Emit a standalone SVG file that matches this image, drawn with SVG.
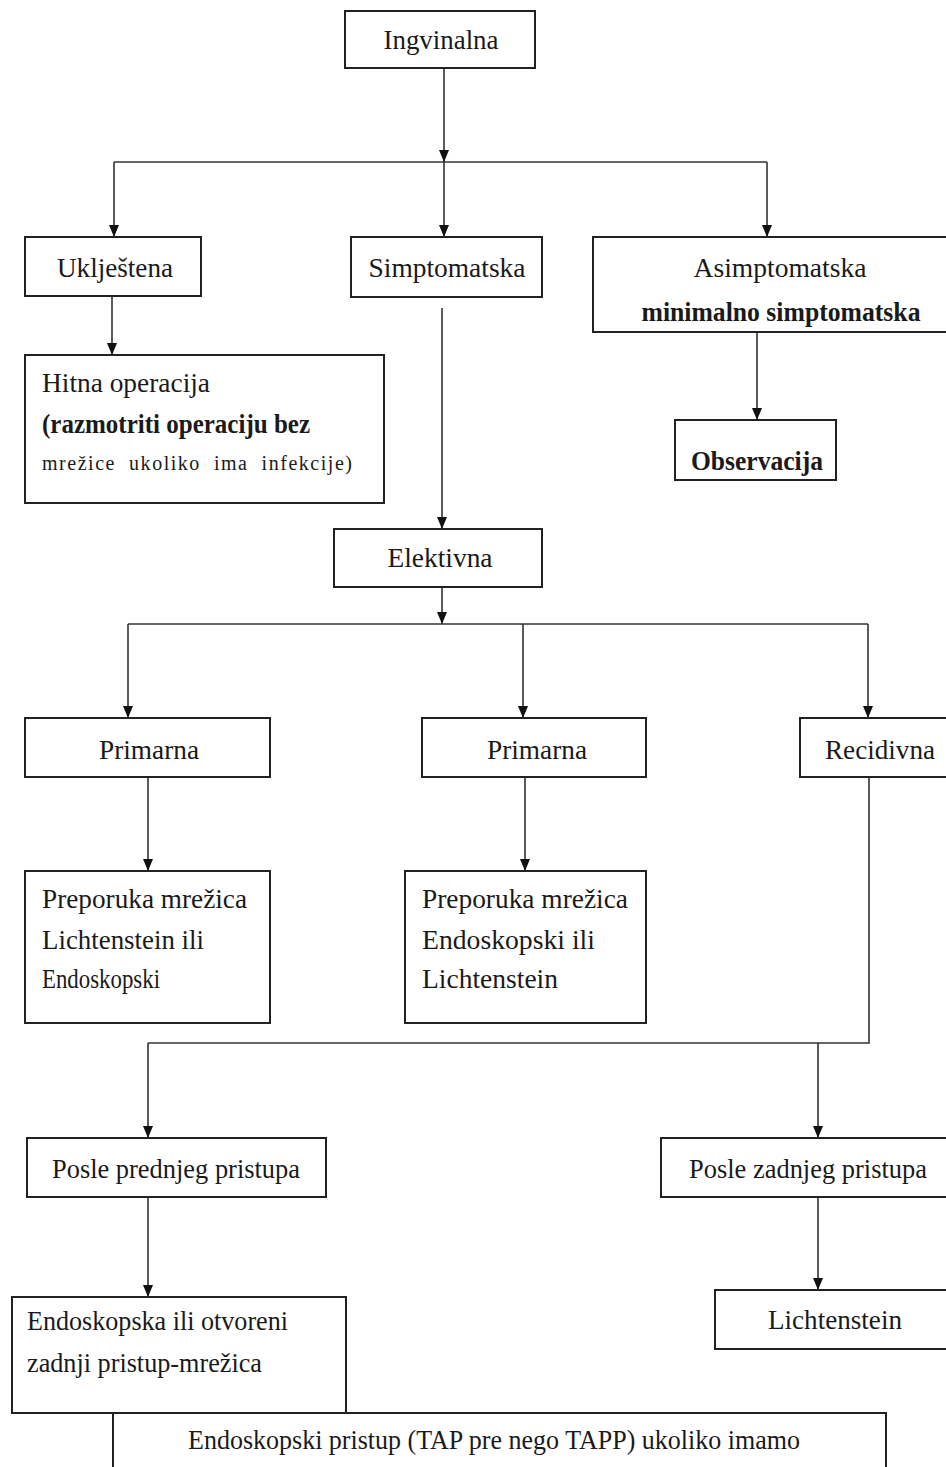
<svg xmlns="http://www.w3.org/2000/svg" width="946" height="1467" viewBox="0 0 946 1467">
<defs>
<marker id="arr" markerWidth="12" markerHeight="10" refX="12" refY="5" orient="auto" markerUnits="userSpaceOnUse" viewBox="0 0 12 10">
<path d="M0,0 L12,5 L0,10 Z" fill="#111"/>
</marker>
<style>
.box{fill:#fff;stroke:#222;stroke-width:2}
.ln{fill:none;stroke:#333;stroke-width:1.6}
.t{font-family:"Liberation Serif","DejaVu Serif",serif;font-size:27px;fill:#1a1a1a}
.c{text-anchor:middle}
.b{font-weight:bold}
.s{font-size:20px}
</style>
</defs>
<rect width="946" height="1467" fill="#fff"/>
<g id="connectors">
<path class="ln" d="M444,68 V162" marker-end="url(#arr)"/>
<path class="ln" d="M114,162 H767"/>
<path class="ln" d="M114,162 V237" marker-end="url(#arr)"/>
<path class="ln" d="M444,162 V237" marker-end="url(#arr)"/>
<path class="ln" d="M767,162 V237" marker-end="url(#arr)"/>
<path class="ln" d="M112,296 V355" marker-end="url(#arr)"/>
<path class="ln" d="M757,332 V420" marker-end="url(#arr)"/>
<path class="ln" d="M442,308 V529" marker-end="url(#arr)"/>
<path class="ln" d="M442,587 V624" marker-end="url(#arr)"/>
<path class="ln" d="M128,624 H868"/>
<path class="ln" d="M128,624 V718" marker-end="url(#arr)"/>
<path class="ln" d="M523,624 V718" marker-end="url(#arr)"/>
<path class="ln" d="M868,624 V718" marker-end="url(#arr)"/>
<path class="ln" d="M148,777 V871" marker-end="url(#arr)"/>
<path class="ln" d="M525,777 V871" marker-end="url(#arr)"/>
<path class="ln" d="M869,777 V1043 H148"/>
<path class="ln" d="M148,1043 V1138" marker-end="url(#arr)"/>
<path class="ln" d="M818,1043 V1138" marker-end="url(#arr)"/>
<path class="ln" d="M148,1197 V1297" marker-end="url(#arr)"/>
<path class="ln" d="M818,1197 V1290" marker-end="url(#arr)"/>
</g>
<g id="n-ingvinalna"><rect class="box" x="345" y="11" width="190" height="57"/><text class="t c" x="441" y="49" textLength="115" lengthAdjust="spacingAndGlyphs">Ingvinalna</text></g>
<g id="n-ukljestena"><rect class="box" x="25" y="237" width="176" height="59"/><text class="t c" x="115" y="277" textLength="116" lengthAdjust="spacingAndGlyphs">Uklještena</text></g>
<g id="n-simptomatska"><rect class="box" x="351" y="237" width="191" height="60"/><text class="t c" x="447" y="277" textLength="157" lengthAdjust="spacingAndGlyphs">Simptomatska</text></g>
<g id="n-asimptomatska"><rect class="box" x="593" y="237" width="360" height="95"/><text class="t c" x="780" y="277" textLength="173" lengthAdjust="spacingAndGlyphs">Asimptomatska</text><text class="t c b" x="781" y="321" textLength="279" lengthAdjust="spacingAndGlyphs">minimalno simptomatska</text></g>
<g id="n-hitna"><rect class="box" x="25" y="355" width="359" height="148"/><text class="t" x="42" y="392" textLength="168" lengthAdjust="spacingAndGlyphs">Hitna operacija</text><text class="t b" x="42" y="433" textLength="268" lengthAdjust="spacingAndGlyphs">(razmotriti operaciju bez</text><text class="t s" x="42" y="470" textLength="310" lengthAdjust="spacing" xml:space="preserve">mrežice  ukoliko  ima  infekcije)</text></g>
<g id="n-observacija"><rect class="box" x="675" y="420" width="161" height="60"/><text class="t b" x="691" y="470" textLength="132" lengthAdjust="spacingAndGlyphs">Observacija</text></g>
<g id="n-elektivna"><rect class="box" x="334" y="529" width="208" height="58"/><text class="t c" x="440" y="567" textLength="105" lengthAdjust="spacingAndGlyphs">Elektivna</text></g>
<g id="n-primarna1"><rect class="box" x="25" y="718" width="245" height="59"/><text class="t c" x="149" y="759" textLength="100" lengthAdjust="spacingAndGlyphs">Primarna</text></g>
<g id="n-primarna2"><rect class="box" x="422" y="718" width="224" height="59"/><text class="t c" x="537" y="759" textLength="100" lengthAdjust="spacingAndGlyphs">Primarna</text></g>
<g id="n-recidivna"><rect class="box" x="800" y="718" width="160" height="59"/><text class="t" x="825" y="759" textLength="110" lengthAdjust="spacingAndGlyphs">Recidivna</text></g>
<g id="n-preporuka1"><rect class="box" x="25" y="871" width="245" height="152"/><text class="t" x="42" y="908" textLength="205" lengthAdjust="spacingAndGlyphs">Preporuka mrežica</text><text class="t" x="42" y="949" textLength="162" lengthAdjust="spacingAndGlyphs">Lichtenstein ili</text><text class="t" x="42" y="988" textLength="118" lengthAdjust="spacingAndGlyphs">Endoskopski</text></g>
<g id="n-preporuka2"><rect class="box" x="405" y="871" width="241" height="152"/><text class="t" x="422" y="908" textLength="206" lengthAdjust="spacingAndGlyphs">Preporuka mrežica</text><text class="t" x="422" y="949" textLength="173" lengthAdjust="spacingAndGlyphs">Endoskopski ili</text><text class="t" x="422" y="988" textLength="136" lengthAdjust="spacingAndGlyphs">Lichtenstein</text></g>
<g id="n-posle-prednjeg"><rect class="box" x="27" y="1138" width="299" height="59"/><text class="t" x="52" y="1178" textLength="248" lengthAdjust="spacingAndGlyphs">Posle prednjeg pristupa</text></g>
<g id="n-posle-zadnjeg"><rect class="box" x="661" y="1138" width="295" height="59"/><text class="t" x="689" y="1178" textLength="238" lengthAdjust="spacingAndGlyphs">Posle zadnjeg pristupa</text></g>
<g id="n-endoskopska"><rect class="box" x="12" y="1297" width="334" height="116"/><text class="t" x="27" y="1330" textLength="261" lengthAdjust="spacingAndGlyphs">Endoskopska ili otvoreni</text><text class="t" x="27" y="1372" textLength="235" lengthAdjust="spacingAndGlyphs">zadnji pristup-mrežica</text></g>
<g id="n-lichtenstein"><rect class="box" x="715" y="1290" width="241" height="59"/><text class="t" x="768" y="1329" textLength="134" lengthAdjust="spacingAndGlyphs">Lichtenstein</text></g>
<g id="n-endoskopski-pristup"><rect class="box" x="113" y="1413" width="773" height="70"/><text class="t" x="188" y="1449" textLength="612" lengthAdjust="spacingAndGlyphs">Endoskopski pristup (TAP pre nego TAPP) ukoliko imamo</text></g>
</svg>
